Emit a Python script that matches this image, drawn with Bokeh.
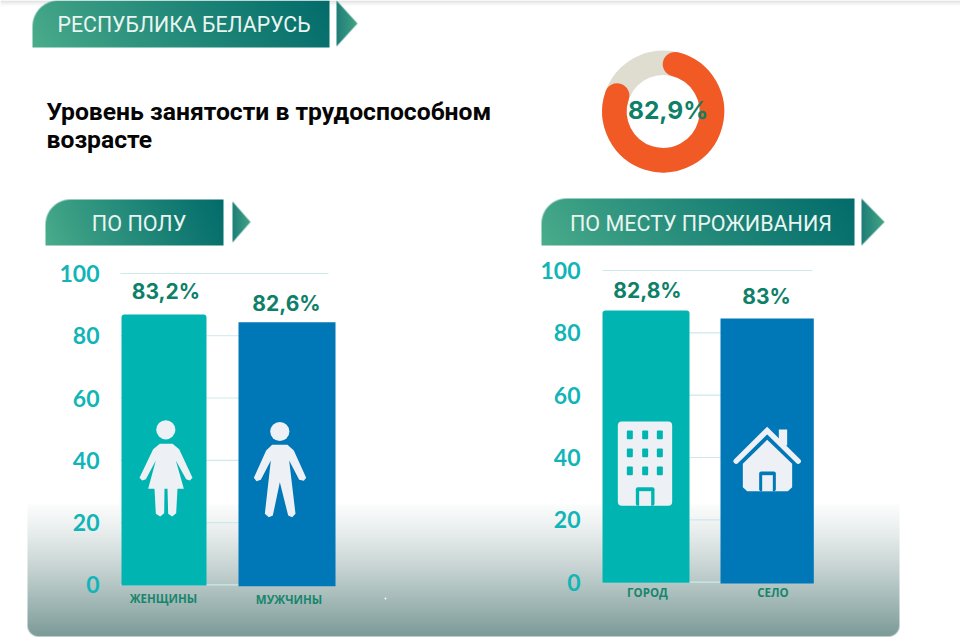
import numpy as np
from bokeh.core.properties import value
from bokeh.embed import file_html
from bokeh.models import FixedTicker, LinearAxis, Range1d
from bokeh.plotting import figure
from bokeh.resources import INLINE

# ---- data ----
ticks = [0, 20, 40, 60, 80, 100]
total_value = 82.9
total_label = "82,9%"

sex_names = ["ЖЕНЩИНЫ", "МУЖЧИНЫ"]
sex_labels = ["83,2%", "82,6%"]
sex_heights = [86.8, 84.3]      # bar heights as drawn in the picture
sex_bottoms = [-0.2, -0.5]

place_names = ["ГОРОД", "СЕЛО"]
place_labels = ["82,8%", "83%"]
place_heights = [87.2, 84.6]
place_bottoms = [-0.2, -0.4]

title_lines = ["Уровень занятости в трудоспособном", "возрасте"]

TEAL, BLUE = "#00b5b1", "#0077b6"
VAL = "#0e7f68"
TICK = "#12b5b7"
ICON = "#edf1f5"
W, H = 960, 644


def Y(py):
    return H - np.asarray(py, dtype=float)


p = figure(width=W, height=H, x_range=Range1d(0, W), y_range=Range1d(0, H),
           toolbar_location=None, output_backend="svg", min_border=0,
           x_axis_location=None, y_axis_location=None)
p.grid.visible = False
p.outline_line_color = None
p.background_fill_color = "#ffffff"
p.styles = {"position": "absolute", "left": "0px", "top": "0px"}

# panel scales: value axis of each chart
Z_L, K_L = 584.3, 3.113
Z_R, K_R = 581.7, 3.117
p.extra_y_ranges = {
    "sex": Range1d((Z_L - H) / K_L, Z_L / K_L),
    "place": Range1d((Z_R - H) / K_R, Z_R / K_R),
}


def rgba(arr):
    a = np.clip(arr, 0, 255).astype(np.uint8)
    return a[..., 0].astype(np.uint32) | (a[..., 1].astype(np.uint32) << 8) | \
        (a[..., 2].astype(np.uint32) << 16) | (a[..., 3].astype(np.uint32) << 24)


def put_image(arr, x0, top, w, h):
    # arr row 0 = top of the image on screen
    p.image_rgba(image=[rgba(arr[::-1])], x=[x0], y=[float(Y(top + h))], dw=[w], dh=[h])


def hexrgb(c):
    return np.array([int(c[i:i + 2], 16) for i in (1, 3, 5)], dtype=float)


C0, C1 = hexrgb("#4cae8c"), hexrgb("#036c6b")


def banner(x0, top, w, h, radius):
    yy, xx = np.mgrid[0:h, 0:w]
    t = np.clip(0.9 * xx / w + 0.1 * (1 - yy / h), 0, 1)[..., None] ** 0.85
    a = np.ones((h, w)) * 255
    dx, dy = radius - xx - .5, radius - yy - .5
    d = np.hypot(dx, dy)
    a[(xx < radius) & (yy < radius)] = np.clip((radius - d[(xx < radius) & (yy < radius)] + .5), 0, 1) * 255
    put_image(np.dstack([C0 + (C1 - C0) * t, a]), x0, top, w, h)


def arrow(x0, top, w, h):
    yy, xx = np.mgrid[0:h, 0:w]
    t = np.clip(xx / w, 0, 1)[..., None]
    edge = w * (1 - np.abs(yy + .5 - h / 2) / (h / 2))
    a = np.clip(edge - xx, 0, 1) * 255
    col = hexrgb("#1f7f78") + (hexrgb("#44a585") - hexrgb("#1f7f78")) * t
    put_image(np.dstack([col, a]), x0, top, w, h)


# faint top shadow
yy = np.arange(6)[:, None, None] * np.ones((6, W, 1))
put_image(np.dstack([np.full((6, W, 3), 225.0), 255 * (1 - yy[..., 0] / 6) ** 1.5]), 0, 0, W, 6)

# grey-green band at the bottom
bx, bt, bw, bh, br = 27, 504, 872, 132, 11
yy, xx = np.mgrid[0:bh, 0:bw]
t = (yy / bh)[..., None] ** 1.2
col = hexrgb("#fbfcfc") + (hexrgb("#7b9a97") - hexrgb("#fbfcfc")) * t
a = np.ones((bh, bw)) * 255
for cx in (br, bw - br):
    m = ((xx < br) if cx == br else (xx >= bw - br)) & (yy >= bh - br)
    a[m] = np.clip(br - np.hypot(xx[m] + .5 - cx, yy[m] + .5 - (bh - br)) + .5, 0, 1) * 255
put_image(np.dstack([col, a]), bx, bt, bw, bh)
p.circle(x=[385], y=[float(Y(598))], radius=0.9, fill_color="#ffffff", line_color=None)

# header banners
for (x0, top, w, h, r), (ax, at, aw, ah) in [
    ((32, 0, 297, 47, 26), (336, 0, 21, 46)),
    ((45, 199, 178, 46, 25), (232, 201, 18, 41)),
    ((541, 198, 313, 47, 25), (861, 198, 23, 47)),
]:
    banner(x0, top, w, h, r)
    arrow(ax, at, aw, ah)

banner_font = value("Roboto")
for x, y, s, fs in [(183.5, 24, "РЕСПУБЛИКА БЕЛАРУСЬ", "21.3px"),
                    (138.5, 223, "ПО ПОЛУ", "21.6px"),
                    (700.5, 222.5, "ПО МЕСТУ ПРОЖИВАНИЯ", "21.5px")]:
    p.text(x=[x], y=[float(Y(y))], text=[s], text_color="#e9f5f1", text_font=banner_font,
           text_font_size=fs, text_align="center", text_baseline="middle")

# title
p.text(x=[46, 46], y=list(Y([111, 139])), text=title_lines, text_color="#050505",
       text_font=value("Roboto"), text_font_style="bold", text_font_size="24.7px",
       text_align="left", text_baseline="middle")

# donut
cx, cy = 662.7, float(Y(111))
p.annulus(x=[cx], y=[cy], inner_radius=36.5, outer_radius=61, fill_color="#dfdcd0", line_color=None)
start = np.deg2rad(76)
sweep = np.deg2rad(total_value / 100 * 360 - 23.4)
p.arc(x=[cx], y=[cy], radius=48.75, start_angle=float(start - sweep), end_angle=float(start),
      line_color="#f15a24", line_width=24.5, line_cap="round", direction="anticlock")
p.text(x=[667.5], y=[float(Y(109))], text=[total_label], text_color=VAL, text_font=value("Inter"),
       text_font_style="bold", text_font_size="24.5px", text_align="center", text_baseline="middle")


def panel(range_name, tick_x, grid_x0, grid_x1, bars, heights, bottoms, labels, label_x, label_gap,
          names, name_x, name_py):
    p.segment(x0=[grid_x0] * len(ticks), x1=[grid_x1] * len(ticks), y0=ticks, y1=ticks,
              y_range_name=range_name, line_color="#cfe9ea", line_width=1.2)
    lefts, rights = zip(*bars)
    radii = ((3, 3, 0, 0), 0)
    for l, r, b, t, c, rad in zip(lefts, rights, bottoms, heights, (TEAL, BLUE), radii):
        p.vbar(x=[(l + r) / 2], width=r - l, bottom=[b], top=[t], y_range_name=range_name,
               fill_color=c, line_color=None, border_radius=rad)
    ax = LinearAxis(y_range_name=range_name, fixed_location=tick_x, ticker=FixedTicker(ticks=ticks),
                    axis_line_color=None, major_tick_line_color=None, minor_tick_line_color=None,
                    major_label_text_color=TICK, major_label_text_font="Lato",
                    major_label_text_font_style="bold", major_label_text_font_size="23px",
                    major_label_standoff=2)
    p.add_layout(ax, "left")
    p.text(x=label_x, y=[h + g for h, g in zip(heights, label_gap)], text=labels, y_range_name=range_name,
           text_color=VAL, text_font=value("Inter"), text_font_style="bold", text_font_size="21px",
           text_align="center", text_baseline="middle")
    p.text(x=name_x, y=list(Y(name_py)), text=names, text_color="#17866d", text_font=value("Open Sans"),
           text_font_style="bold", text_font_size="11.5px", text_align="center", text_baseline="middle")


panel("sex", 107, 120, 328, [(121, 206), (238, 335)], sex_heights, sex_bottoms, sex_labels,
      [165.5, 286], [7.4, 6.1], sex_names, [163, 288.5], [597.5, 598.5])
panel("place", 588, 602, 812, [(602, 689), (720, 813.3)], place_heights, place_bottoms, place_labels,
      [647, 766], [6.4, 7.0], place_names, [647, 772.5], [592, 592])


def zp(points, ox, oy):
    pts = np.array(points, dtype=float)
    return list(ox + pts[:, 0] / 3), list(Y(oy + pts[:, 1] / 3))


# woman
p.circle(x=[165.3], y=[float(Y(429.3))], radius=9.6, fill_color=ICON, line_color=None)
xs, ys = zp([(418, 130), (456, 130), (476, 146), (516, 232), (508, 240), (497, 236), (466, 180), (490, 265),
             (471, 265), (467, 338), (455, 348), (443, 340), (441, 265), (432, 265), (431, 338), (419, 348),
             (406, 340), (402, 265), (383, 265), (406, 180), (376, 236), (365, 240), (357, 232), (398, 146)], 20, 400)
p.patch(xs, ys, fill_color=ICON, line_color=None)
# man
p.circle(x=[279.3], y=[float(Y(431))], radius=9.6, fill_color=ICON, line_color=None)
xs, ys = zp([(755, 133), (801, 133), (820, 150), (857, 232), (850, 241), (836, 238), (806, 180), (825, 340),
             (815, 350), (803, 345), (778, 245), (757, 345), (745, 350), (733, 340), (751, 180), (721, 238),
             (708, 242), (700, 232), (737, 150)], 20, 400)
p.patch(xs, ys, fill_color=ICON, line_color=None)


def zrect(x0, y0, x1, y1, color, radius=0, ox=530, oy=400):
    x = ox + (x0 + x1) / 6
    y = float(Y(oy + (y0 + y1) / 6))
    p.rect(x=[x], y=[y], width=(x1 - x0) / 3, height=(y1 - y0) / 3, fill_color=color, line_color=None,
           border_radius=radius)


# building
zrect(262, 63, 425, 316, ICON, 4)
for wx in (298, 344, 388):
    for wy in (103, 157, 211):
        zrect(wx - 9, wy - 13, wx + 9, wy + 13, TEAL, 1)
zrect(316, 260, 372, 316, TEAL, 2)
zrect(326, 272, 362, 316, ICON)
# house
zrect(745, 87, 770, 135, ICON)
xs, ys = zp([(617, 182), (710, 90), (803, 182)], 530, 400)
p.line(xs, ys, line_color=ICON, line_width=5.4, line_cap="round", line_join="miter")
xs, ys = zp([(710, 118), (785, 190), (785, 260), (772, 272), (650, 272), (637, 260), (637, 190)], 530, 400)
p.patch(xs, ys, fill_color=ICON, line_color=None)
zrect(686, 213, 736, 272, BLUE, 2)
zrect(695, 224, 727, 272, ICON)

open("out.html", "w").write(file_html(p, INLINE))
